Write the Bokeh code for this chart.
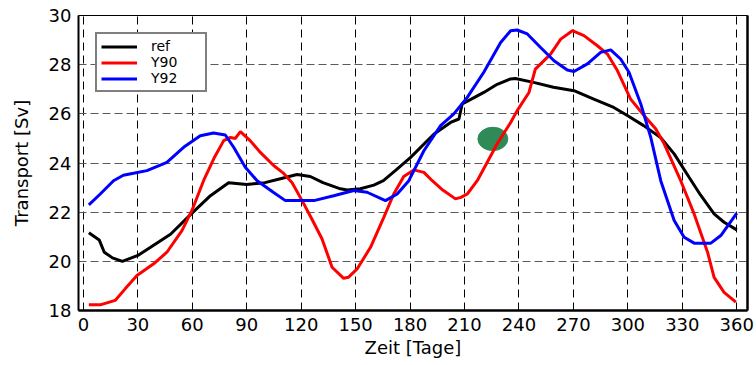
from bokeh.plotting import figure
from bokeh.models import Range1d, Legend, LegendItem, LinearAxis, FixedTicker
from bokeh.embed import file_html
from bokeh.resources import INLINE

# ---- data ----
ref_day = [3, 8.7, 11.5, 16, 21.5, 30, 37, 48, 60, 70, 80, 90, 100, 108, 117.7, 125, 132,
           141.6, 145.3, 152.6, 160, 165.3, 172, 180.3, 193.2, 202.3, 206.9, 208.7, 215,
           220.6, 228, 235.4, 238, 248, 259, 270.3, 281.2, 292.2, 299.7, 308.7, 318, 325.5,
           333.7, 340, 347.5, 353, 360]
ref_sv = [21.16, 20.87, 20.37, 20.14, 20.0, 20.24, 20.57, 21.1, 21.97, 22.67, 23.2, 23.13, 23.2,
          23.35, 23.53, 23.45, 23.2, 22.95, 22.9, 22.95, 23.1, 23.28, 23.7, 24.23, 25.18, 25.65,
          25.79, 26.4, 26.65, 26.87, 27.2, 27.42, 27.44, 27.28, 27.08, 26.94, 26.6, 26.26, 25.93,
          25.52, 25.04, 24.37, 23.42, 22.7, 21.93, 21.59, 21.28]

y90_day = [3, 9.3, 17.5, 23, 29.5, 38.7, 46, 54.3, 59.8, 66.2, 72, 77.3, 81, 83.7, 86.5, 92,
           97.5, 104.8, 110, 115, 120.5, 126, 131.5, 137, 143.4, 146, 150.8, 158.2, 165.5, 171,
           176.5, 182, 187.6, 192.2, 198, 205, 208, 211.5, 217, 228, 235.4, 239, 245.5, 249,
           257.4, 263, 269.4, 275.8, 283.2, 288.7, 294.2, 301.5, 308.9, 315.3, 320, 329.1,
           336.5, 343.9, 347.5, 353, 359.5]
y90_sv = [18.23, 18.23, 18.41, 18.88, 19.42, 19.9, 20.37, 21.25, 22.07, 23.28, 24.2, 24.91, 25.04,
          25.0, 25.28, 24.9, 24.43, 23.9, 23.6, 23.2, 22.47, 21.7, 20.91, 19.76, 19.31, 19.35,
          19.69, 20.57, 21.79, 22.74, 23.45, 23.72, 23.62, 23.28, 22.9, 22.54, 22.6, 22.74, 23.28,
          24.78, 25.65, 26.13, 26.87, 27.82, 28.43, 29.04, 29.38, 29.18, 28.77, 28.43, 27.76,
          26.6, 25.93, 25.39, 24.78, 23.28, 21.93, 20.37, 19.35, 18.74, 18.34]

y92_day = [3, 9.3, 16.6, 22, 27.6, 35, 46, 55.2, 64.4, 71.7, 78.2, 82.8, 89.2, 95.7, 104.8,
           111.3, 127, 137.9, 149, 156.3, 166.4, 172.9, 179.3, 187.6, 196.8, 204.1, 211.5,
           220.6, 229.9, 235.4, 239, 244.6, 251.9, 259.3, 266.6, 270.3, 277.7, 285, 290.5, 296,
           300.6, 307.1, 312.6, 318.1, 325.5, 331, 336.5, 345.7, 351.2, 360]
y92_sv = [22.3, 22.74, 23.28, 23.5, 23.58, 23.69, 24.03, 24.64, 25.11, 25.22, 25.14, 24.64, 23.83,
          23.28, 22.8, 22.47, 22.47, 22.67, 22.88, 22.81, 22.47, 22.74, 23.28, 24.5, 25.52, 26.0,
          26.67, 27.69, 28.9, 29.38, 29.41, 29.25, 28.7, 28.16, 27.78, 27.72, 28.03, 28.5, 28.6,
          28.23, 27.69, 26.4, 25.04, 23.28, 21.66, 20.98, 20.74, 20.74, 21.05, 21.96]

marker_day = [225.6]
marker_sv = [24.98]

x_ticks = [0, 30, 60, 90, 120, 150, 180, 210, 240, 270, 300, 330, 360]
y_ticks = [18, 20, 22, 24, 26, 28, 30]

FONT = "DejaVu Sans"

p = figure(width=756, height=365, x_range=Range1d(-2.7, 365.9), y_range=Range1d(18, 30),
           output_backend="svg", toolbar_location=None,
           min_border_left=78, min_border_right=9, min_border_top=15, min_border_bottom=55)

p.outline_line_color = "black"
p.outline_line_width = 1

p.ellipse(x=marker_day, y=marker_sv, width=16.5, height=0.95, color="#2E8B57")

r_ref = p.line(ref_day, ref_sv, line_color="black", line_width=3)
r_90 = p.line(y90_day, y90_sv, line_color="#FF0000", line_width=3)
r_92 = p.line(y92_day, y92_sv, line_color="#0000FF", line_width=3)

for ax in (p.xaxis[0], p.yaxis[0]):
    ax.major_label_text_font = FONT
    ax.major_label_text_font_size = "18px"
    ax.major_label_text_color = "black"
    ax.axis_label_text_font = FONT
    ax.axis_label_text_font_size = "18px"
    ax.axis_label_text_font_style = "normal"
    ax.axis_label_text_color = "black"
    ax.major_tick_in = 0
    ax.major_tick_out = 0
    ax.minor_tick_in = 0
    ax.minor_tick_out = 0
    ax.axis_line_color = "black"

p.xaxis[0].ticker = FixedTicker(ticks=x_ticks)
p.yaxis[0].ticker = FixedTicker(ticks=y_ticks)
p.xaxis[0].axis_label = "Zeit [Tage]"
p.yaxis[0].axis_label = "Transport [Sv]"
p.xaxis[0].axis_line_width = 2.5
p.yaxis[0].axis_line_width = 2
p.xaxis[0].major_label_standoff = 7
p.xaxis[0].axis_label_standoff = 3
p.yaxis[0].major_label_standoff = 7
p.yaxis[0].axis_label_standoff = 14

right = LinearAxis(major_tick_in=0, major_tick_out=0,
                   minor_tick_in=0, minor_tick_out=0, major_label_standoff=0,
                   axis_line_width=2.5, axis_line_color="black",
                   ticker=FixedTicker(ticks=[]))
p.add_layout(right, "right")

p.xgrid.ticker = FixedTicker(ticks=x_ticks)
p.ygrid.ticker = FixedTicker(ticks=y_ticks)
p.xgrid[0].grid_line_color = "black"
p.xgrid[0].grid_line_dash = "8 5"
p.xgrid[0].grid_line_width = 1
p.ygrid[0].grid_line_color = "#5a5a5a"
p.ygrid[0].grid_line_dash = "8 4"
p.ygrid[0].grid_line_width = 1.2

legend = Legend(items=[LegendItem(label="ref", renderers=[r_ref]),
                       LegendItem(label="Y90", renderers=[r_90]),
                       LegendItem(label="Y92", renderers=[r_92])],
                location="top_left")
legend.label_text_font = FONT
legend.label_text_font_size = "14px"
legend.label_text_color = "black"
legend.label_text_line_height = 1.0
legend.glyph_width = 36
legend.glyph_height = 15
legend.label_height = 15
legend.label_width = 50
legend.spacing = 0
legend.padding = 4
legend.margin = 17
legend.label_standoff = 14
legend.border_line_color = "black"
legend.border_line_width = 2
legend.background_fill_alpha = 1
p.add_layout(legend, "center")

open("out.html", "w").write(file_html(p, INLINE))
